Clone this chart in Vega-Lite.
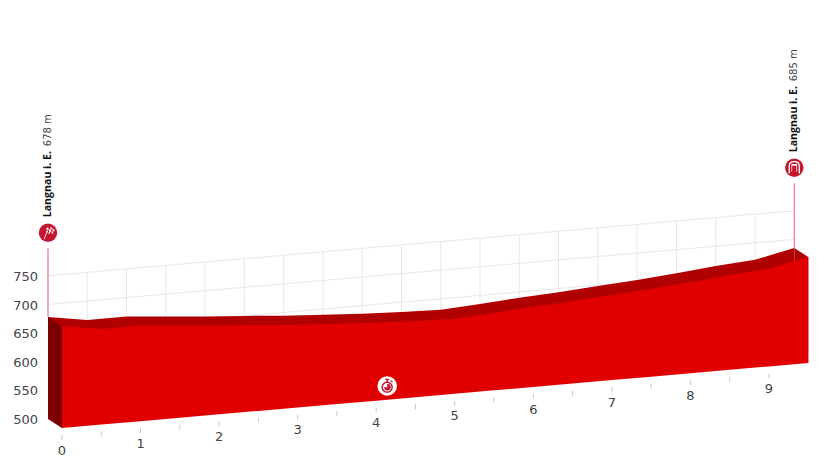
{
"$schema":"https://vega.github.io/schema/vega-lite/v6.json",
"width":825,"height":459,"padding":0,
"autosize":{"type":"fit","contains":"padding"},
"background":"white",
"config":{"view":{"stroke":null}},
"datasets":{
"profile":[{"km":0,"elev":678},{"km":0.5,"elev":667},{"km":1,"elev":667},{"km":1.5,"elev":661},{"km":2,"elev":655},{"km":2.5,"elev":650},{"km":3,"elev":644.5},{"km":3.5,"elev":640},{"km":4,"elev":636},{"km":4.5,"elev":633},{"km":5,"elev":631},{"km":5.5,"elev":635},{"km":6,"elev":640},{"km":6.5,"elev":643.5},{"km":7,"elev":648.5},{"km":7.5,"elev":653},{"km":8,"elev":659},{"km":8.5,"elev":665.6},{"km":9,"elev":670.5},{"km":9.5,"elev":685}],
"faces":[{"end":"start","km":0,"depth":0,"elev":678},{"end":"start","km":0,"depth":1,"elev":678},{"end":"finish","km":9.5,"depth":0,"elev":685},{"end":"finish","km":9.5,"depth":1,"elev":685}],
"kmTicks":[{"km":0},{"km":0.5},{"km":1},{"km":1.5},{"km":2},{"km":2.5},{"km":3},{"km":3.5},{"km":4},{"km":4.5},{"km":5},{"km":5.5},{"km":6},{"km":6.5},{"km":7},{"km":7.5},{"km":8},{"km":8.5},{"km":9}],
"kmLabels":[{"km":0},{"km":1},{"km":2},{"km":3},{"km":4},{"km":5},{"km":6},{"km":7},{"km":8},{"km":9}],
"elevLabels":[{"elev":500},{"elev":550},{"elev":600},{"elev":650},{"elev":700},{"elev":750}],
"gridElev":[{"elev":650},{"elev":700},{"elev":750}],
"pins":[{"km":0,"elev":678,"place":"Langnau i. E.","height":"678 m"},{"km":9.5,"elev":685,"place":"Langnau i. E.","height":"685 m"}],
"stopwatch":[{"km":4.14,"elev":524}]
},
"encoding":{
"x":{"field":"u","type":"quantitative","axis":null,"scale":{"domain":[-0.611,9.891],"nice":false,"zero":false}},
"y":{"field":"v","type":"quantitative","axis":null,"scale":{"domain":[430.19,1231.2],"nice":false,"zero":false}}
},
"layer":[
{"data":{"name":"kmTicks"},"transform":[{"filter":"datum.km>0"},{"calculate":"datum.km","as":"u"},{"calculate":"500+11.94*datum.km","as":"v"},{"calculate":"750+11.94*datum.km","as":"v2"}],
 "mark":{"type":"rule","color":"#e8e8e8","strokeWidth":1},"encoding":{"y2":{"field":"v2"}}},
{"data":{"name":"gridElev"},"transform":[{"calculate":"0","as":"u"},{"calculate":"9.5","as":"u2"},{"calculate":"datum.elev","as":"v"},{"calculate":"datum.elev+11.94*9.5","as":"v2"}],
 "mark":{"type":"rule","color":"#e8e8e8","strokeWidth":1},"encoding":{"x2":{"field":"u2"},"y2":{"field":"v2"}}},
{"data":{"name":"profile"},"transform":[{"calculate":"datum.km","as":"u"},{"calculate":"datum.elev+11.94*datum.km","as":"v"},{"calculate":"500+11.94*datum.km","as":"v2"}],
 "mark":{"type":"area","color":"#b00000"},"encoding":{"y2":{"field":"v2"}}},
{"data":{"name":"faces"},"transform":[{"filter":"datum.end=='finish'"},{"calculate":"datum.km+0.178*datum.depth","as":"u"},{"calculate":"datum.elev+11.94*datum.km-15.7*datum.depth","as":"v"},{"calculate":"500+11.94*datum.km-15.7*datum.depth","as":"v2"}],
 "mark":{"type":"area","color":"#b00000"},"encoding":{"y2":{"field":"v2"}}},
{"data":{"name":"profile"},"transform":[{"calculate":"datum.km+0.178","as":"u"},{"calculate":"datum.elev+11.94*datum.km-15.7","as":"v"},{"calculate":"500+11.94*datum.km-15.7","as":"v2"}],
 "mark":{"type":"area","color":"#e00000"},"encoding":{"y2":{"field":"v2"}}},
{"data":{"name":"faces"},"transform":[{"filter":"datum.end=='start'"},{"calculate":"datum.km+0.178*datum.depth","as":"u"},{"calculate":"datum.elev+11.94*datum.km-15.7*datum.depth","as":"v"},{"calculate":"500+11.94*datum.km-15.7*datum.depth","as":"v2"}],
 "mark":{"type":"area","color":"#7d0000"},"encoding":{"y2":{"field":"v2"}}},
{"data":{"name":"kmTicks"},"transform":[{"calculate":"datum.km+0.178","as":"u"},{"calculate":"500+11.94*datum.km-15.7-12.2","as":"v"},{"calculate":"500+11.94*datum.km-15.7-21","as":"v2"}],
 "mark":{"type":"rule","color":"#c8c8c8","strokeWidth":1},"encoding":{"y2":{"field":"v2"}}},
{"data":{"name":"kmLabels"},"transform":[{"calculate":"datum.km+0.178","as":"u"},{"calculate":"500+11.94*datum.km-15.7-39.6","as":"v"}],
 "mark":{"type":"text","font":"DejaVu Sans","fontSize":13,"color":"#444444","align":"center","baseline":"middle"},"encoding":{"text":{"field":"km","type":"quantitative"}}},
{"data":{"name":"elevLabels"},"transform":[{"calculate":"-0.127","as":"u"},{"calculate":"datum.elev-2","as":"v"}],
 "mark":{"type":"text","font":"DejaVu Sans","fontSize":13,"color":"#444444","align":"right","baseline":"middle"},"encoding":{"text":{"field":"elev","type":"quantitative"}}},
{"data":{"name":"pins"},"transform":[{"calculate":"datum.km","as":"u"},{"calculate":"datum.elev+11.94*datum.km","as":"v"},{"calculate":"798+11.94*datum.km","as":"v2"}],
 "mark":{"type":"rule","color":"#e3788a","strokeWidth":1.2},"encoding":{"y2":{"field":"v2"}}},
{"data":{"name":"pins"},"transform":[{"calculate":"datum.km","as":"u"},{"calculate":"825+11.94*datum.km","as":"v"}],
 "mark":{"type":"point","shape":"circle","filled":true,"size":340,"color":"#c2172f","opacity":1}},
{"data":{"name":"pins"},"transform":[{"filter":"datum.km==0"},{"calculate":"datum.km","as":"u"},{"calculate":"825+11.94*datum.km","as":"v"}],
 "mark":{"type":"point","filled":true,"size":170,"color":"#ffffff","opacity":1,"shape":"M-0.62 1L-0.5 1L-0.08 -0.28L-0.2 -0.28ZM-0.28 -0.72L0.02 -0.82L0.12 -0.48L-0.16 -0.4ZM0.32 -0.86L0.62 -0.82L0.7 -0.52L0.42 -0.52ZM0.12 -0.48L0.42 -0.52L0.5 -0.2L0.2 -0.16ZM-0.16 -0.4L-0.32 -0.1L-0.08 0L0.02 -0.2ZM0.7 -0.52L0.95 -0.56L1 -0.24L0.76 -0.2ZM0.2 -0.16L0 0.12L0.28 0.14L0.32 -0.14ZM0.5 -0.2L0.76 -0.2L0.82 0.1L0.56 0.12Z"}},
{"data":{"name":"pins"},"transform":[{"filter":"datum.km>0"},{"calculate":"datum.km","as":"u"},{"calculate":"825+11.94*datum.km","as":"v"}],
 "mark":{"type":"point","filled":true,"size":200,"color":"#ffffff","opacity":1,"shape":"M-0.8 0.8L-0.8 -0.2C-0.8 -0.8 -0.4 -0.95 0 -0.95C0.4 -0.95 0.8 -0.8 0.8 -0.2L0.8 0.8L0.62 0.8L0.62 -0.2C0.62 -0.65 0.3 -0.77 0 -0.77C-0.3 -0.77 -0.62 -0.65 -0.62 -0.2L-0.62 0.8ZM-0.4 -0.55L0.4 -0.55L0.4 -0.28L-0.4 -0.28ZM-0.4 -0.28L-0.3 -0.28L-0.3 0.55L-0.4 0.55ZM0.3 -0.28L0.4 -0.28L0.4 0.55L0.3 0.55Z"}},
{"data":{"name":"pins"},"transform":[{"calculate":"datum.km","as":"u"},{"calculate":"852+11.94*datum.km","as":"v"}],
 "mark":{"type":"text","font":"Open Sans","fontWeight":"bold","fontSize":10.6,"color":"#111111","angle":270,"align":"left","baseline":"middle"},"encoding":{"text":{"field":"place"}}},
{"data":{"name":"pins"},"transform":[{"calculate":"datum.km","as":"u"},{"calculate":"976+11.94*datum.km","as":"v"}],
 "mark":{"type":"text","font":"DejaVu Sans","fontSize":10,"color":"#444444","angle":270,"align":"left","baseline":"middle"},"encoding":{"text":{"field":"height"}}},
{"data":{"name":"stopwatch"},"transform":[{"calculate":"datum.km+0.178","as":"u"},{"calculate":"datum.elev+11.94*datum.km-15.7","as":"v"}],
 "mark":{"type":"point","shape":"circle","filled":true,"size":380,"color":"#ffffff","opacity":1}},
{"data":{"name":"stopwatch"},"transform":[{"calculate":"datum.km+0.178","as":"u"},{"calculate":"datum.elev+11.94*datum.km-15.7","as":"v"}],
 "mark":{"type":"point","filled":true,"size":200,"color":"#c2172f","opacity":1,"shape":"M0 -0.62A0.8 0.8 0 1 0 0.001 -0.62ZM0 -0.42A0.6 0.6 0 1 1 -0.001 -0.42ZM-0.28 -1L0.28 -1L0.28 -0.82L0.1 -0.82L0.1 -0.62L-0.1 -0.62L-0.1 -0.82L-0.28 -0.82ZM0.55 -0.85L0.8 -0.6L0.68 -0.48L0.43 -0.73ZM0 -0.3L0 0.18L-0.45 0.18A0.48 0.48 0 1 0 0 -0.3Z"}}
]
}
